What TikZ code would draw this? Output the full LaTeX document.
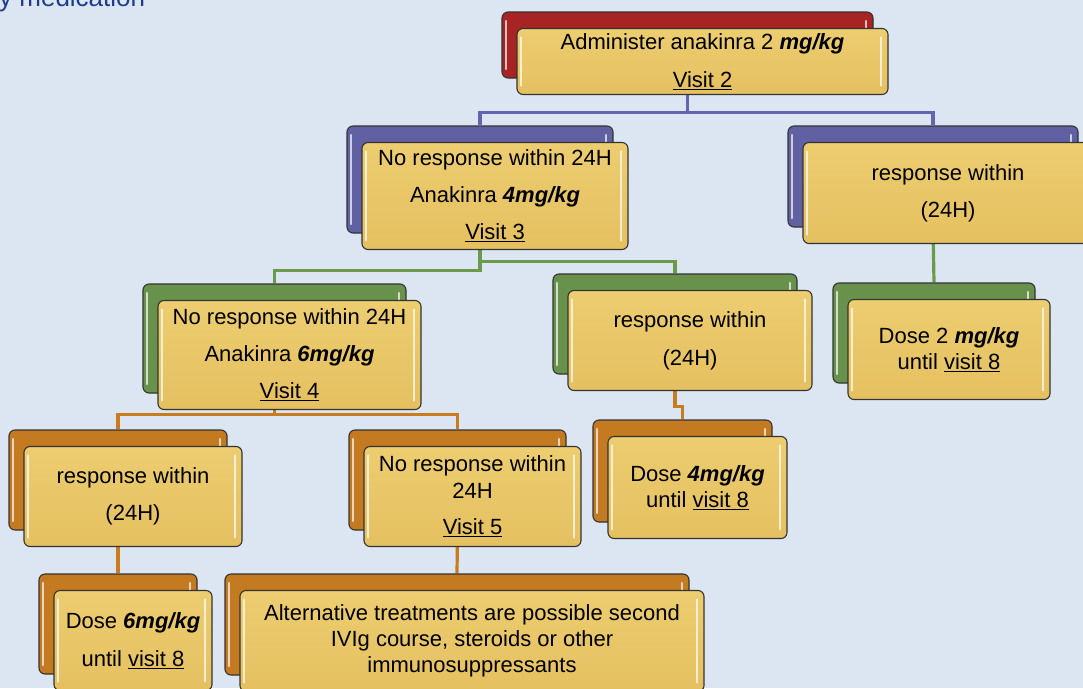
\documentclass[tikz,border=0pt]{standalone}
\usepackage{fontspec}
\setmainfont{Liberation Sans}
\definecolor{bgblue}{RGB}{220,230,242}
\definecolor{gold1}{RGB}{236,205,112}
\definecolor{gold2}{RGB}{229,192,96}
\definecolor{cred}{RGB}{168,36,36}
\definecolor{cpurple}{RGB}{96,96,162}
\definecolor{cgreen}{RGB}{104,146,76}
\definecolor{corange}{RGB}{196,122,32}
\definecolor{lpurple}{RGB}{100,100,176}
\definecolor{lgreen}{RGB}{108,154,76}
\definecolor{lorange}{RGB}{200,124,30}
\definecolor{titleblue}{RGB}{31,60,140}
\pgfdeclarelayer{bg}\pgfdeclarelayer{wires}
\pgfsetlayers{bg,wires,main}
\tikzset{
 gloss/.style={path picture={
   \draw[white,opacity=0.7,line width=2.2pt,line cap=round]
     ([xshift=4pt,yshift=-9pt]path picture bounding box.north west) -- ([xshift=4pt,yshift=9pt]path picture bounding box.south west)
     ([xshift=-7pt,yshift=-9pt]path picture bounding box.north east) -- ([xshift=-7pt,yshift=9pt]path picture bounding box.south east);}},
 backbox/.style={draw=black!80, line width=1.1pt, rounded corners=6pt, fill=#1, gloss, inner sep=0pt},
 frontbox/.style={draw=black!80, line width=1.1pt, rounded corners=6pt, top color=gold1, bottom color=gold2, gloss, inner sep=0pt, align=center},
 wire/.style={line width=3.2pt, draw=#1},
 fsz/.style={font=\fontsize{22}{#1}\selectfont},
}
% name, colour, x, y, w, h, front options, text
\newcommand\tbox[8]{%
  \node[backbox=#2, minimum width=#5pt, minimum height=#6pt] (#1b) at ({#3+#5/2},{#4+#6/2}) {};
  \node[frontbox, minimum width=#5pt, minimum height=#6pt, #7] (#1) at ({#3+#5/2+15},{#4+#6/2+16.5}) {#8};
}
\newcommand\bi[1]{\textbf{\textit{#1}}}
\begin{document}
\begin{tikzpicture}[x=1pt,y=-1pt]
\useasboundingbox (0,0) rectangle (1083,688);
\begin{pgfonlayer}{bg}
\fill[bgblue] (0,0) rectangle (1083,688);
\end{pgfonlayer}
\node[anchor=base west, inner sep=0pt, text=titleblue, font=\fontsize{26}{30}\selectfont] (title) at (-1,6) {y medication};

\tbox{n0}{cred}{502}{12}{371}{66}{fsz=38}{Administer anakinra 2 \bi{mg/kg}\\\underline{Visit 2}}
\tbox{n1}{cpurple}{347}{126}{266}{107}{fsz=37}{No response within 24H\\Anakinra \bi{4mg/kg}\\\underline{Visit 3}}
\tbox{n2}{cpurple}{788}{126}{290}{101}{fsz=37}{response within\\(24H)}
\tbox{n3}{cgreen}{143}{284}{263}{109}{fsz=37}{No response within 24H\\Anakinra \bi{6mg/kg}\\\underline{Visit 4}}
\tbox{n4}{cgreen}{553}{274}{244}{100}{fsz=38}{response within\\(24H)}
\tbox{n5}{cgreen}{833}{283}{202}{100}{fsz=26}{Dose 2 \bi{mg/kg}\\until \underline{visit 8}}
\tbox{n6}{corange}{9}{430}{218}{100}{fsz=37}{response within\\(24H)}
\tbox{n7}{corange}{349}{430}{217}{100}{fsz=27}{No response within\\24H\\[9pt]\underline{Visit 5}}
\tbox{n8}{corange}{593}{420}{179}{102}{fsz=26}{Dose \bi{4mg/kg}\\until \underline{visit 8}}
\tbox{n9}{corange}{39}{574}{158}{100}{fsz=38}{Dose \bi{6mg/kg}\\until \underline{visit 8}}
\tbox{n10}{corange}{225}{574}{464}{101}{fsz=26}{Alternative treatments are possible second\\IVIg course, steroids or other\\immunosuppressants}

\begin{pgfonlayer}{wires}
\draw[wire=lpurple] (n0b.south) -- ++(0,34) -| (n1b.north);
\draw[wire=lpurple] (n0b.south) -- ++(0,34) -| (n2b.north);
\draw[wire=lgreen] (n1b.south) -- ++(0,37) -| (n3b.north);
\draw[wire=lgreen] (n1b.south) -- ++(0,28) -| (n4b.north);
\draw[wire=lgreen] (n2b.south) -- (n5b.north);
\draw[wire=lorange] (n3b.south) -- ++(0,21) -| (n6b.north);
\draw[wire=lorange] (n3b.south) -- ++(0,21) -| (n7b.north);
\draw[wire=lorange] (n4b.south) -- ++(0,32) -| (n8b.north);
\draw[wire=lorange] (n6b.south) -- (n9b.north);
\draw[wire=lorange] (n7b.south) -- (n10b.north);
\end{pgfonlayer}
\end{tikzpicture}
\end{document}
